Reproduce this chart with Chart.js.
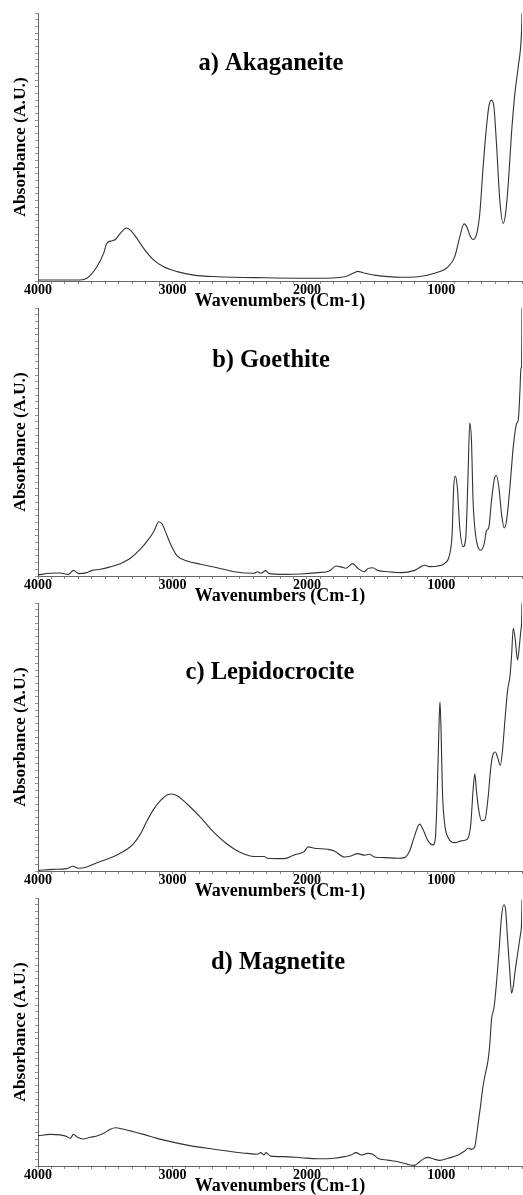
<!DOCTYPE html>
<html><head><meta charset="utf-8">
<script src="https://cdn.jsdelivr.net/npm/chart.js@4"></script>
<style>
html,body{margin:0;padding:0;background:#fff;}
#wrap{position:relative;width:523px;height:1195px;overflow:hidden;background:#fff;}
canvas{position:absolute;left:0;}
</style></head><body>
<div id="wrap">
<canvas id="c0" width="523" height="310" style="top:0px"></canvas>
<canvas id="c1" width="523" height="310" style="top:295px"></canvas>
<canvas id="c2" width="523" height="310" style="top:590px"></canvas>
<canvas id="c3" width="523" height="310" style="top:885px"></canvas>
</div>
<script>
// ---- data (wavenumber cm-1, absorbance in arbitrary units 0-100) ----
const panelTitles = ["a) Akaganeite", "b) Goethite", "c) Lepidocrocite", "d) Magnetite"];
const xTickLabels = [4000, 3000, 2000, 1000];
const xTitle = "Wavenumbers (Cm-1)";
const yTitle = "Absorbance (A.U.)";

const akaWn = [4000,3687,3637,3562,3512,3488,3450,3425,3388,3343,3313,3264,3214,3139,3065,2965,2841,2667,2294,1920,1721,1647,1622,1585,1498,1298,1174,1050,950,900,863,831,806,789,764,739,714,689,664,647,627,609,590,565,540,522,502,478,453,428,403,400];
const akaAbs = [0.4,0.4,1.0,5.3,10.3,14.1,15.0,15.5,17.8,19.8,19.0,15.9,12.2,7.8,5.3,3.5,2.2,1.6,1.2,1.0,1.6,3.1,3.6,3.1,2.2,1.4,1.6,2.9,5.3,9.1,16.5,21.3,19.7,17.2,15.5,17.2,25.2,42.7,57.6,65.0,67.5,65.0,51.4,30.2,21.5,25.2,36.4,55.1,70.0,80.0,93.7,99.9];

const goeWn = [4000,3910,3836,3774,3736,3699,3637,3599,3537,3463,3388,3313,3239,3177,3134,3102,3077,3040,3002,2965,2891,2791,2667,2542,2393,2368,2343,2306,2281,2169,2045,1920,1833,1784,1746,1709,1659,1622,1572,1547,1510,1473,1398,1298,1199,1124,1087,1025,975,938,920,908,896,881,863,838,818,801,789,776,764,746,726,706,682,664,647,627,602,590,572,552,532,515,490,465,440,428,415,408,403,401,400];
const goeAbs = [0.4,1.0,1.1,0.6,2.1,0.9,1.25,2.1,2.5,3.4,4.6,6.6,10.0,13.75,17.1,20.25,19.4,15.0,10.6,7.5,5.6,4.4,3.1,1.6,1.0,1.6,1.0,2.0,0.9,0.6,0.75,1.25,1.9,3.75,3.4,2.9,4.6,2.9,1.6,2.75,3.1,2.1,1.6,1.25,2.1,4.0,3.5,3.75,4.75,8.1,15.6,33.1,37.25,33.1,18.1,10.9,14.4,38.1,57.1,50.6,28.1,15.6,10.6,9.6,11.9,16.9,18.1,28.1,36.9,37.5,33.1,23.1,17.9,20.6,33.1,48.1,56.9,58.1,69.4,77.5,78.1,90.6,100];

const lepWn = [4000,3886,3786,3741,3699,3637,3562,3488,3413,3338,3289,3239,3189,3139,3090,3040,3002,2965,2891,2791,2692,2592,2493,2393,2318,2294,2169,2094,2020,1990,1945,1846,1796,1721,1672,1622,1572,1535,1498,1423,1323,1274,1236,1199,1162,1137,1099,1062,1044,1030,1017,1010,1002,992,975,950,900,851,806,781,764,751,739,721,701,677,652,632,614,597,582,562,545,527,507,490,478,465,450,433,420,408,403,400];
const lepAbs = [0.25,0.6,0.9,1.75,1.0,1.5,3.1,4.4,6.0,8.1,10.25,13.75,18.75,23.1,26.25,28.4,28.75,28.1,25.0,20.0,14.4,10.0,6.9,5.4,5.4,4.75,4.6,6.0,7.25,9.0,8.5,8.1,7.5,5.25,5.6,6.5,5.9,6.25,5.25,5.0,4.75,5.0,7.5,13.1,17.5,15.6,11.25,9.75,12.5,30.0,55.0,63.1,52.5,30.0,17.5,12.5,10.6,11.25,11.9,17.5,30.0,36.25,30.0,22.5,18.75,19.0,27.5,38.75,43.75,44.4,42.5,39.4,45.0,56.25,67.5,72.5,80.0,90.6,86.25,78.75,83.75,90.0,92.5,100];

const magWn = [4000,3910,3836,3786,3761,3736,3706,3662,3612,3562,3512,3463,3425,3363,3289,3214,3114,3015,2891,2741,2592,2443,2368,2343,2318,2306,2269,2169,2045,1920,1796,1721,1672,1634,1597,1547,1510,1473,1398,1323,1249,1199,1162,1124,1099,1062,1012,950,876,826,801,776,751,739,726,709,694,677,652,639,627,607,590,572,552,535,522,507,490,478,465,453,428,410,405,402,400];
const magAbs = [11.3,11.8,11.6,11.0,10.3,11.8,10.7,10.1,10.7,11.2,12.2,13.7,14.3,13.7,12.8,11.8,10.3,9.1,7.8,6.6,5.6,4.7,4.4,5.0,4.1,5.0,3.7,3.5,3.1,2.7,2.9,3.5,4.1,5.0,4.1,4.7,4.4,2.9,2.2,1.6,0.6,0.25,1.6,2.9,3.2,2.7,2.1,2.9,4.1,5.6,6.6,6.2,7.2,11.0,15.9,22.2,28.4,33.4,39.6,45.8,54.5,59.5,68.2,79.5,93.2,97.5,95.6,84.4,72.0,64.5,67.0,72.0,80.7,86.9,88.8,93.2,99.4];

const FONT = '"Liberation Serif", "Times New Roman", serif';

const panelTitlePlugin = {
  id: 'panelTitle',
  afterDraw(chart, args, opts) {
    const ctx = chart.ctx;
    ctx.save();
    ctx.font = 'bold 24.5px ' + FONT;
    ctx.fillStyle = '#000';
    ctx.textAlign = 'center';
    ctx.textBaseline = 'middle';
    ctx.fillText(opts.text, opts.x, opts.y);
    ctx.restore();
  }
};

function makeChart(id, title, wn, abs, tx, ty) {
  const pts = wn.map((w, i) => ({x: w, y: abs[i]}));
  return new Chart(document.getElementById(id), {
    type: 'line',
    data: { datasets: [{ data: pts, borderColor: '#333', borderWidth: 1.1, pointRadius: 0, fill: false, cubicInterpolationMode: 'monotone' }] },
    plugins: [panelTitlePlugin],
    options: {
      responsive: false, animation: false, devicePixelRatio: 1,
      layout: { padding: { top: 13, right: 1, left: 0, bottom: 0 } },
      plugins: { legend: { display: false }, tooltip: { enabled: false }, panelTitle: { text: title, x: tx, y: ty } },
      scales: {
        x: {
          type: 'linear', reverse: true, min: 400, max: 4000,
          afterFit(s) { s.height = 29; },
          border: { display: true, color: '#666', width: 1 },
          grid: { display: true, drawOnChartArea: false, drawTicks: true, tickLength: 3, color: '#888' },
          ticks: { stepSize: 100, autoSkip: false, maxRotation: 0, minRotation: 0, padding: -2, color: '#000',
                   font: { family: FONT, size: 14, weight: 'bold' },
                   callback: (v) => xTickLabels.includes(v) ? String(v) : '' },
          title: { display: true, text: xTitle, color: '#000', font: { family: FONT, size: 18, weight: 'bold' }, padding: { top: 0, bottom: -2 } }
        },
        y: {
          min: 0, max: 100,
          afterFit(s) { s.width = 38; },
          border: { display: true, color: '#666', width: 1 },
          grid: { display: true, drawOnChartArea: false, drawTicks: true, tickLength: 3, color: '#999' },
          ticks: { stepSize: 2.5, maxTicksLimit: 1000, autoSkip: false, padding: 0, callback: () => '' },
          title: { display: true, text: yTitle, color: '#000', font: { family: FONT, size: 17.5, weight: 'bold' }, padding: { top: 10, bottom: 0 } }
        }
      }
    }
  });
}

makeChart('c0', panelTitles[0], akaWn, akaAbs, 271, 64);
makeChart('c1', panelTitles[1], goeWn, goeAbs, 271, 66);
makeChart('c2', panelTitles[2], lepWn, lepAbs, 270, 83);
makeChart('c3', panelTitles[3], magWn, magAbs, 278, 78);
</script>
</body></html>
